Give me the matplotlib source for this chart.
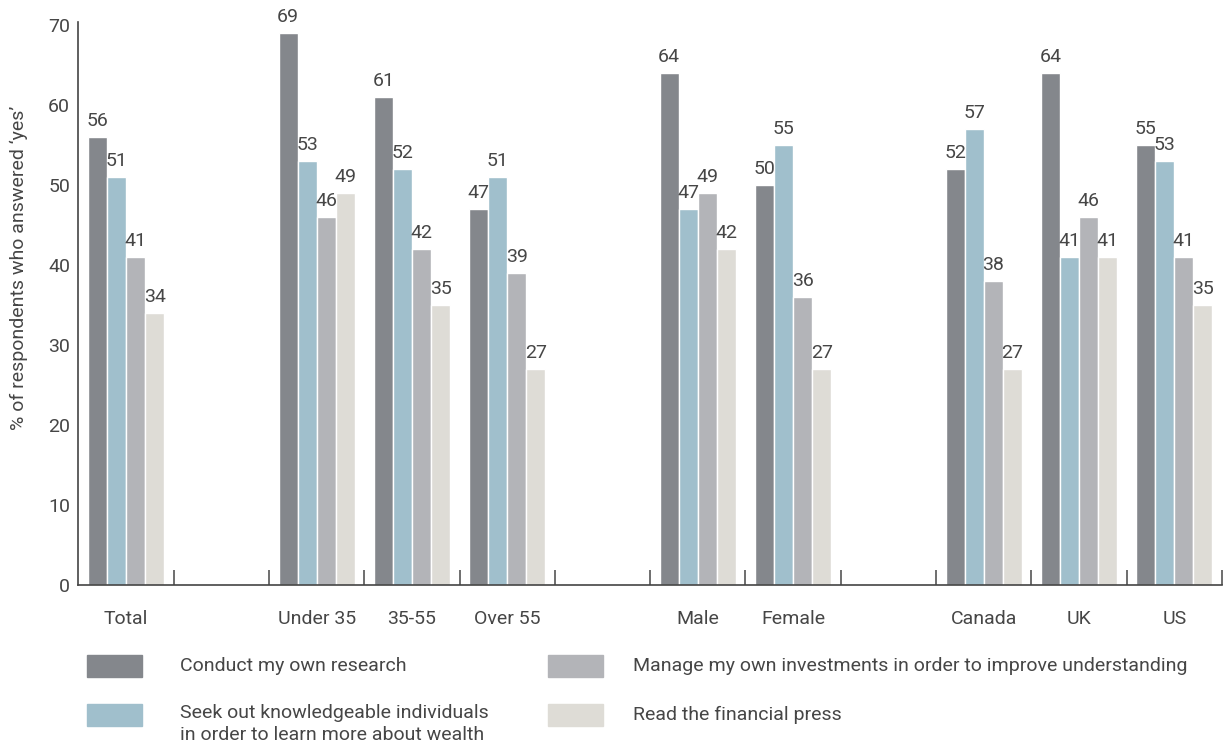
# survey responses: ways respondents learn about wealth, split by age, gender and country
import numpy as np
import matplotlib
matplotlib.use("Agg")
import matplotlib.pyplot as plt
import matplotlib.ticker as ticker
from matplotlib.patches import Rectangle

plt.rcParams['font.family'] = ['Roboto', 'DejaVu Sans']

# empty strings are spacer slots between the groups
categories = ["Total", "", "Under 35", "35-55", "Over 55", "",
              "Male", "Female", "", "Canada", "UK", "US"]
research = [56, None, 69, 61, 47, None, 64, 50, None, 52, 64, 55]
seek_out = [51, None, 53, 52, 51, None, 47, 55, None, 57, 41, 53]
manage = [41, None, 46, 42, 39, None, 49, 36, None, 38, 46, 41]
press = [34, None, 49, 35, 27, None, 42, 27, None, 27, 41, 35]

series_names = ["Conduct my own research",
                "Seek out knowledgeable individuals\nin order to learn more about wealth",
                "Manage my own investments in order to improve understanding",
                "Read the financial press"]
colors = ["#84878c", "#a0bfcc", "#b3b4b8", "#dedcd6"]
text_col = "#464646"

fig = plt.figure(figsize=(12.24, 7.47), dpi=100)
ax = fig.add_axes([0.0641, 0.2169, 0.9342, 0.7497])

x = np.arange(len(categories))
width = 0.2
offsets = [-1.5 * width, -0.5 * width, 0.5 * width, 1.5 * width]
for vals, off, col in zip([research, seek_out, manage, press], offsets, colors):
    idx = [i for i, v in enumerate(vals) if v is not None]
    v = [vals[i] for i in idx]
    bars = ax.bar(x[idx] + off, v, width, color=col, edgecolor="white", linewidth=1)
    ax.bar_label(bars, labels=[str(n) for n in v], padding=5,
                 fontsize=14, color=text_col)

ax.set_xlim(-0.5, len(categories) - 0.5)
ax.set_ylim(0, 70)
ax.set_yticks(range(0, 71, 10))
ax.set_xticks(x)
ax.set_xticklabels(categories)
ax.xaxis.set_minor_locator(ticker.FixedLocator(np.arange(0.5, len(categories), 1.0)))
ax.tick_params(axis="x", which="major", length=0, pad=18, labelsize=14, labelcolor=text_col)
ax.tick_params(axis="x", which="minor", direction="in", length=11, width=1.2, color="#555555")
ax.tick_params(axis="y", length=0, pad=6, labelsize=14, labelcolor=text_col)

for side in ["top", "right"]:
    ax.spines[side].set_visible(False)
for side in ["left", "bottom"]:
    ax.spines[side].set_color("#444444")
    ax.spines[side].set_linewidth(1.2)
ax.spines["left"].set_bounds(0, 70.4)

fig.text(0.015, 1 - 268 / 747, "% of respondents who answered \u2018yes\u2019",
         rotation=90, ha="center", va="center", fontsize=14, color=text_col)

# legend drawn in figure coordinates, two columns
W, H = 1224, 747
legend_pos = [(87, 666, 180), (87, 715, 180), (548, 666, 633), (548, 715, 633)]
for (px, py, tx), name, col in zip(legend_pos, series_names, colors):
    fig.patches.append(Rectangle((px / W, 1 - (py + 11) / H), 55 / W, 22 / H,
                                 transform=fig.transFigure, color=col))
    if "\n" in name:
        fig.text(tx / W, 1 - (py - 11) / H, name, ha="left", va="top",
                 fontsize=14, color=text_col, linespacing=1.3)
    else:
        fig.text(tx / W, 1 - py / H, name, ha="left", va="center",
                 fontsize=14, color=text_col)

fig.savefig("out.png", dpi=100, facecolor="white")
